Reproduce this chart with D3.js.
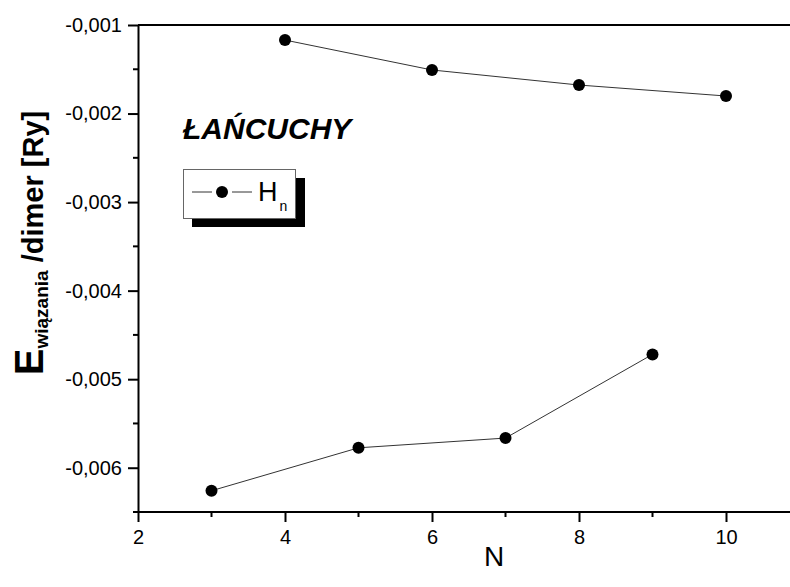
<!DOCTYPE html>
<html>
<head>
<meta charset="utf-8">
<script src="https://cdn.jsdelivr.net/npm/d3@7"></script>
<style>
  html, body { margin: 0; padding: 0; background: #fff; }
  svg { display: block; font-family: "Liberation Sans", Arial, sans-serif; }
</style>
</head>
<body>
<div id="chart"></div>
<script>
// data
const nOdd = [3, 5, 7, 9];
const eOdd = [-0.00626, -0.005775, -0.005665, -0.00472];
const nEven = [4, 6, 8, 10];
const eEven = [-0.00117, -0.001508, -0.001678, -0.001802];

const xMajor = [2, 4, 6, 8, 10];
const xMinor = [3, 5, 7, 9];
const yMajor = [-0.006, -0.005, -0.004, -0.003, -0.002, -0.001];
const yMinor = [-0.0065, -0.0055, -0.0045, -0.0035, -0.0025, -0.0015];

const width = 790;
const height = 587;

const svg = d3.select('#chart')
    .append('svg')
    .attr('width', width)
    .attr('height', height);

const x = d3.scaleLinear().domain([2, 11]).range([138, 799.5]);
const y = d3.scaleLinear().domain([-0.0065, -0.001]).range([512, 25]);

const loc = d3.formatLocale({ decimal: ',', thousands: ' ', grouping: [3], currency: ['', ''], minus: '-' });
const fmt = loc.format('.3f');

// top frame line
svg.append('line')
    .attr('x1', x(2)).attr('x2', width)
    .attr('y1', y(-0.001)).attr('y2', y(-0.001))
    .attr('stroke', '#000').attr('stroke-width', 2);

// x axis
const xAxis = svg.append('g')
    .attr('transform', `translate(0,${y(-0.0065)})`)
    .call(d3.axisBottom(x).tickValues(xMajor).tickSize(10).tickPadding(8).tickSizeOuter(0));
xAxis.append('g').selectAll('line')
    .data(xMinor).join('line')
    .attr('x1', d => x(d)).attr('x2', d => x(d))
    .attr('y1', 0).attr('y2', 5)
    .attr('stroke', '#000').attr('stroke-width', 2);

// y axis
const yAxis = svg.append('g')
    .attr('transform', `translate(${x(2)},0)`)
    .call(d3.axisLeft(y).tickValues(yMajor).tickFormat(fmt).tickSize(10).tickPadding(6).tickSizeOuter(0));
yAxis.append('g').selectAll('line')
    .data(yMinor).join('line')
    .attr('x1', -5).attr('x2', 0)
    .attr('y1', d => y(d)).attr('y2', d => y(d))
    .attr('stroke', '#000').attr('stroke-width', 2);

svg.selectAll('.domain').attr('stroke', '#000').attr('stroke-width', 2);
svg.selectAll('.tick line').attr('stroke', '#000').attr('stroke-width', 2);
svg.selectAll('.tick text')
    .attr('fill', '#000')
    .style('font-size', '20px')
    .style('font-family', '"Liberation Sans", Arial, sans-serif');
xAxis.selectAll('.tick text').attr('dy', '0.71em');

// x axis extends to the right edge
xAxis.select('.domain').attr('d', `M${x(2)},0H${width}`);

// series
const line = d3.line().x(d => x(d[0])).y(d => y(d[1]));
const series = [d3.zip(nOdd, eOdd), d3.zip(nEven, eEven)];

svg.selectAll('path.series')
    .data(series).join('path')
    .attr('class', 'series')
    .attr('d', line)
    .attr('fill', 'none')
    .attr('stroke', '#333')
    .attr('stroke-width', 1);

svg.selectAll('circle.pt')
    .data(series.flat()).join('circle')
    .attr('class', 'pt')
    .attr('cx', d => x(d[0]))
    .attr('cy', d => y(d[1]))
    .attr('r', 6)
    .attr('fill', '#000');

// axis titles
svg.append('text')
    .attr('x', 494).attr('y', 566)
    .attr('text-anchor', 'middle')
    .style('font-size', '28px')
    .text('N');

const yTitle = svg.append('text')
    .attr('transform', 'translate(43,243) rotate(-90)')
    .attr('text-anchor', 'middle')
    .style('font-weight', 'bold');
yTitle.append('tspan').style('font-size', '40px').text('E');
yTitle.append('tspan').style('font-size', '19px').attr('dy', 5).text('wiązania');
yTitle.append('tspan').style('font-size', '29px').attr('dy', -5).text(' /dimer [Ry]');

// label inside plot
svg.append('text')
    .attr('x', 183).attr('y', 139)
    .style('font-size', '30px')
    .style('font-weight', 'bold')
    .style('font-style', 'italic')
    .text('ŁAŃCUCHY');

// legend
const lg = svg.append('g');
lg.append('rect')
    .attr('x', 192).attr('y', 178)
    .attr('width', 113).attr('height', 49)
    .attr('fill', '#000');
lg.append('rect')
    .attr('x', 183.5).attr('y', 169.5)
    .attr('width', 112).attr('height', 49)
    .attr('fill', '#fff')
    .attr('stroke', '#666')
    .attr('stroke-width', 1);
lg.append('line').attr('x1', 192).attr('x2', 212).attr('y1', 192).attr('y2', 192).attr('stroke', '#333');
lg.append('line').attr('x1', 232).attr('x2', 252).attr('y1', 192).attr('y2', 192).attr('stroke', '#333');
lg.append('circle').attr('cx', 222).attr('cy', 192).attr('r', 6).attr('fill', '#000');
const lt = lg.append('text')
    .attr('x', 258).attr('y', 201)
    .style('font-size', '27px');
lt.append('tspan').text('H');
lt.append('tspan').style('font-size', '14px').attr('dx', 2).attr('dy', 10).text('n');
</script>
</body>
</html>
